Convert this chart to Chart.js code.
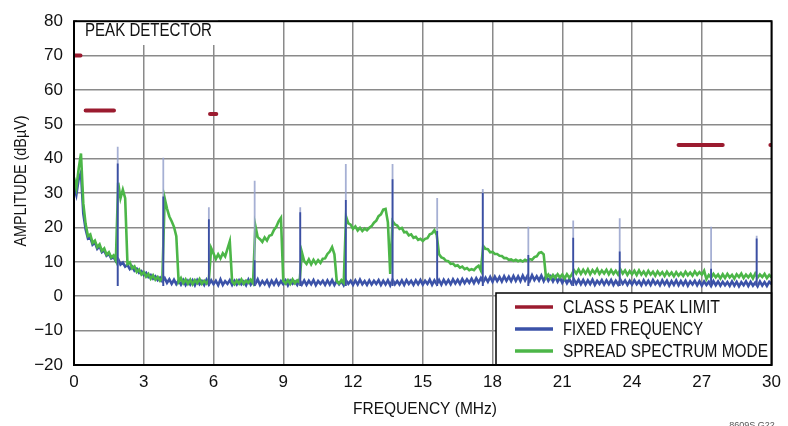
<!DOCTYPE html>
<html>
<head>
<meta charset="utf-8">
<script src="https://cdn.jsdelivr.net/npm/chart.js@4/dist/chart.umd.min.js"></script>
<style>
  body { margin: 0; background: #fff; }
  canvas { display: block; }
</style>
</head>
<body>
<canvas id="grafica" width="788" height="426"></canvas>
<script>
// ejes
const xTickValues = [0, 3, 6, 9, 12, 15, 18, 21, 24, 27, 30]
const xTickLabels = ['0', '3', '6', '9', '12', '15', '18', '21', '24', '27', '30']
const yTickValues = [-20, -10, 0, 10, 20, 30, 40, 50, 60, 70, 80]
const yTickLabels = ['\u221220', '\u221210', '0', '10', '20', '30', '40', '50', '60', '70', '80']

// leyenda
const legendLabels = ['CLASS 5 PEAK LIMIT', 'FIXED FREQUENCY', 'SPREAD SPECTRUM MODE']
const legendColors = ['#9b1b2f', '#3b52a8', '#4cb648']

// limite clase 5 (desde MHz, hasta MHz, dBuV)
const limitFrom = [0.05, 0.5, 5.85, 26.0, 29.95]
const limitTo = [0.28, 1.72, 6.12, 27.9, 30.0]
const limitLevel = [70, 54, 53, 44, 44]

// espectro medido, un valor cada 0.1 MHz desde 0 hasta 30
const freqStep = 0.1
const spreadValues = [
  34.5, 31.5, 37, 41.5, 27, 21, 17.5, 18, 15.5, 16.2,
  14.3, 15.1, 13.2, 13.9, 12.1, 12.8, 11.3, 11.9, 10.4, 33,
  28.5, 31, 28.5, 9.4, 9.9, 8.1, 8.7, 7.1, 7.8, 6.3,
  7.0, 5.7, 6.5, 5.1, 6.1, 4.8, 5.6, 4.5, 5.4, 28.5,
  25.5, 23.2, 21.8, 20.2, 17.5, 4.2, 5.3, 3.8, 4.9, 3.6,
  4.8, 3.5, 4.7, 3.8, 5.0, 3.6, 4.5, 3.7, 4.8, 14,
  12.4, 10.8, 12.2, 11.0, 12.5, 11.6, 13.8, 16, 4.3, 3.5,
  4.6, 3.7, 4.9, 3.6, 4.5, 3.9, 4.8, 3.8, 20.5, 17.2,
  16.6, 15.8, 17.1, 16.2, 17.6, 17.8, 19.3, 20.2, 21.8, 22.8,
  4.5, 3.7, 4.7, 3.6, 4.9, 3.8, 4.6, 4.0, 12.8, 10.2,
  9.4, 10.7, 9.3, 10.6, 9.5, 10.5, 9.7, 10.9, 11.0, 12.3,
  13.0, 14.3, 12.2, 4.4, 3.7, 4.7, 3.9, 23.2, 21.2, 20.8,
  19.6, 20.3, 19.1, 19.9, 19.0, 19.7, 19.2, 19.9, 20.4, 21.4,
  22.0, 23.3, 23.8, 25.2, 25.4, 21.5, 6.5, 21.8, 20.9, 20.6,
  19.6, 19.9, 18.6, 18.7, 17.7, 18.0, 17.0, 17.3, 16.4, 16.7,
  16.1, 16.7, 16.9, 18.0, 18.3, 19.2, 17.8, 12.2, 11.3, 11.0,
  10.3, 10.2, 9.4, 9.5, 8.8, 9.0, 8.3, 8.6, 7.9, 8.2,
  7.6, 7.9, 7.6, 8.4, 8.9, 7.5, 14.6, 13.8, 13.7, 12.8,
  12.9, 12.3, 12.3, 11.8, 11.7, 11.1, 11.1, 10.6, 10.7, 10.3,
  10.6, 10.2, 10.5, 10.1, 10.6, 10.3, 10.8, 10.6, 11.4, 11.6,
  12.6, 12.8, 12.2, 5.4, 6.3, 5.2, 6.2, 5.3, 6.4, 5.5,
  6.3, 5.2, 6.4, 5.4, 6.2, 7.6, 6.6, 7.8, 6.5, 7.7,
  6.6, 7.8, 6.4, 7.6, 6.7, 7.9, 6.5, 7.5, 6.6, 7.7,
  6.4, 7.6, 6.5, 7.4, 6.3, 7.8, 6.6, 7.5, 6.2, 7.3,
  6.4, 7.4, 6.2, 7.5, 6.3, 7.2, 6.1, 7.4, 6.3, 7.1,
  6.0, 7.2, 6.2, 7.0, 5.9, 7.1, 6.1, 6.9, 5.8, 7.0,
  6.0, 6.8, 5.9, 7.1, 6.1, 6.9, 6.0, 7.2, 6.2, 7.0,
  6.3, 7.4, 5.0, 6.2, 5.4, 6.5, 5.5, 6.3, 5.2, 6.4,
  5.3, 6.5, 5.5, 6.2, 5.1, 6.4, 5.6, 6.6, 5.3, 6.3,
  5.5, 6.4, 5.2, 6.6, 5.4, 6.3, 5.6, 6.5, 5.3, 6.2,
  5.5
]
const fixedValues = [
  32, 29.5, 34, 36, 24, 19.5, 16.8, 17.2, 15, 15.6,
  13.8, 14.5, 12.8, 13.3, 11.8, 12.3, 11, 11.4, 10.2, 10.8,
  9.2, 9.8, 8.6, 9.1, 7.9, 8.6, 7.4, 8.0, 6.8, 7.3,
  6.2, 6.8, 5.6, 6.2, 5.1, 5.8, 4.7, 5.4, 4.3, 5.3,
  3.9, 4.9, 3.6, 4.8, 3.5, 4.6, 3.4, 4.7, 3.3, 4.5,
  3.4, 4.6, 3.2, 4.7, 3.5, 4.4, 3.3, 4.8, 3.4, 4.6,
  3.5, 4.5, 3.2, 4.9, 3.3, 4.4, 3.6, 4.7, 3.3, 4.5,
  3.4, 4.6, 3.5, 4.3, 3.2, 4.8, 3.4, 4.5, 3.6, 4.9,
  3.3, 4.4, 3.5, 4.6, 3.1, 4.5, 3.4, 4.7, 3.3, 4.4,
  3.5, 4.6, 3.2, 4.5, 3.6, 4.3, 3.3, 4.8, 3.4, 4.6,
  3.3, 4.5, 3.5, 4.7, 3.2, 4.4, 3.6, 4.5, 3.3, 4.6,
  3.4, 4.7, 3.3, 4.5, 3.5, 4.4, 3.2, 4.6, 3.6, 4.5,
  3.3, 4.6, 3.4, 4.8, 3.5, 4.4, 3.3, 4.6, 3.4, 4.5,
  3.6, 4.7, 3.3, 4.5, 3.4, 4.6, 3.2, 4.8, 3.5, 4.4,
  3.4, 4.6, 3.3, 4.7, 3.6, 4.5, 3.3, 4.6, 3.5, 4.7,
  3.4, 4.5, 3.6, 4.8, 3.3, 4.6, 3.5, 4.7, 3.4, 4.8,
  3.6, 4.7, 3.5, 4.9, 3.7, 4.8, 3.6, 5.0, 3.8, 4.9,
  3.9, 5.1, 3.8, 5.2, 4.0, 5.3, 4.1, 5.4, 4.2, 5.6,
  4.2, 5.7, 4.4, 5.6, 4.3, 5.8, 4.5, 5.7, 4.4, 5.9,
  4.5, 5.8, 4.4, 6.0, 4.6, 5.9, 4.5, 6.1, 4.7, 5.8,
  4.6, 6.0, 4.4, 5.9, 4.5, 5.7, 4.3, 5.6, 4.2, 5.4,
  3.9, 5.2, 3.8, 5.0, 3.7, 4.9, 3.6, 4.8, 3.5, 4.7,
  3.4, 4.6, 3.5, 4.8, 3.3, 4.5, 3.6, 4.7, 3.4, 4.6,
  3.5, 4.7, 3.3, 4.5, 3.4, 4.8, 3.6, 4.6, 3.3, 4.5,
  3.4, 4.6, 3.5, 4.4, 3.2, 4.6, 3.4, 4.5, 3.3, 4.7,
  3.5, 4.4, 3.2, 4.6, 3.4, 4.5, 3.1, 4.4, 3.3, 4.6,
  3.2, 4.4, 3.3, 4.5, 3.1, 4.3, 3.4, 4.5, 3.2, 4.4,
  3.1, 4.3, 3.3, 4.2, 3.0, 4.4, 3.2, 4.3, 3.1, 4.2,
  3.2, 4.1, 3.0, 4.3, 3.1, 4.2, 2.9, 4.1, 3.2, 4.3,
  3.0, 4.2, 3.1, 4.0, 2.9, 4.3, 3.1, 4.1, 3.0, 4.2,
  3.5
]

// armonicos de frecuencia fija
const spikeFreqs = [1.88, 3.84, 5.8, 7.77, 9.73, 11.69, 13.7, 15.62, 17.58, 19.54, 21.47, 23.47, 27.4, 29.36]
const spikeTops = [43.5, 40.3, 25.9, 33.6, 25.9, 38.5, 38.5, 28.6, 31.2, 20.2, 22, 22.7, 20.2, 17.6]
const spikeDark = [38.6, 29, 22.4, 10.5, 24.4, 28, 34, 19, 30, 12, 17, 13, 8, 16.8]
const spikeBase = 3

const fuente = "'Liberation Sans', Arial, sans-serif"

function serie(values) {
  return values.map((v, i) => ({ x: +(i * freqStep).toFixed(1), y: v }))
}
function spikes(tops) {
  let out = []
  spikeFreqs.forEach((f, i) => {
    out.push({ x: f, y: spikeBase }, { x: f, y: tops[i] }, { x: f, y: null })
  })
  return out
}
function limites() {
  let out = []
  limitLevel.forEach((lv, i) => {
    out.push({ x: limitFrom[i], y: lv }, { x: limitTo[i], y: lv }, { x: limitTo[i], y: null })
  })
  return out
}

const marco = {
  id: 'marco',
  afterDraw(chart) {
    const ctx = chart.ctx
    const a = chart.chartArea
    ctx.save()
    // recuadro PEAK DETECTOR
    ctx.fillStyle = '#fff'
    ctx.fillRect(77, 15, 141, 30)
    ctx.fillStyle = '#111'
    ctx.font = '18px ' + fuente
    ctx.textBaseline = 'middle'
    ctx.textAlign = 'left'
    ctx.fillText('PEAK DETECTOR', 85, 31, 127)

    // leyenda
    const lx = 496, ly = 293
    const anchos = [157, 140, 205]
    ctx.fillStyle = '#fff'
    ctx.fillRect(lx, ly, a.right - lx, a.bottom - ly)
    ctx.strokeStyle = '#000'
    ctx.lineWidth = 1.5
    ctx.strokeRect(lx, ly, a.right - lx, a.bottom - ly)
    legendLabels.forEach((t, i) => {
      const y = 307 + i * 22
      ctx.strokeStyle = legendColors[i]
      ctx.lineWidth = 3.5
      ctx.beginPath()
      ctx.moveTo(515, y)
      ctx.lineTo(553, y)
      ctx.stroke()
      ctx.fillStyle = '#111'
      ctx.fillText(t, 563, y + 1, anchos[i])
    })

    // marco
    ctx.strokeStyle = '#000'
    ctx.lineWidth = 2
    ctx.strokeRect(a.left, a.top, a.right - a.left, a.bottom - a.top)

    // titulos de ejes
    ctx.fillStyle = '#111'
    ctx.font = '17px ' + fuente
    ctx.textAlign = 'center'
    ctx.fillText('FREQUENCY (MHz)', 425, 409, 144)
    ctx.save()
    ctx.translate(21, 181)
    ctx.rotate(-Math.PI / 2)
    ctx.fillText('AMPLITUDE (dB\u00b5V)', 0, 0, 131)
    ctx.restore()

    ctx.fillStyle = '#555'
    ctx.font = '9px ' + fuente
    ctx.textBaseline = 'top'
    ctx.fillText('8609S G22', 752, 421)
    ctx.restore()
  }
}

const comun = { pointRadius: 0, tension: 0, spanGaps: false, fill: false }

new Chart(document.getElementById('grafica'), {
  type: 'line',
  data: {
    datasets: [
      { ...comun, label: legendLabels[0], data: limites(), borderColor: legendColors[0], borderWidth: 4, borderCapStyle: 'round', order: 0 },
      { ...comun, label: 'dark', data: spikes(spikeDark), borderColor: '#3b4fa3', borderWidth: 1.8, order: 1 },
      { ...comun, label: 'pale', data: spikes(spikeTops), borderColor: 'rgba(150,162,205,0.85)', borderWidth: 1.8, order: 2 },
      { ...comun, label: legendLabels[2], data: serie(spreadValues), borderColor: legendColors[2], borderWidth: 2.6, order: 3 },
      { ...comun, label: legendLabels[1], data: serie(fixedValues), borderColor: legendColors[1], borderWidth: 2.6, order: 4 }
    ]
  },
  options: {
    responsive: false,
    animation: false,
    events: [],
    layout: { padding: { top: 13, right: 11, left: 0, bottom: 0 } },
    plugins: { legend: { display: false }, tooltip: { enabled: false } },
    scales: {
      x: {
        type: 'linear', min: 0, max: 30,
        afterBuildTicks: (s) => { s.ticks = xTickValues.map(v => ({ value: v })) },
        afterFit: (s) => { s.height = 61 },
        ticks: {
          padding: 7, color: '#111', maxRotation: 0,
          font: { family: fuente, size: 17 },
          callback: (v) => xTickLabels[xTickValues.indexOf(v)]
        },
        grid: { color: '#8a8a8a', lineWidth: 1.5, drawTicks: false },
        border: { display: false }
      },
      y: {
        min: -20, max: 80,
        afterBuildTicks: (s) => { s.ticks = yTickValues.map(v => ({ value: v })) },
        afterFit: (s) => { s.width = 74 },
        ticks: {
          padding: 11, color: '#111',
          font: { family: fuente, size: 17 },
          callback: (v) => yTickLabels[yTickValues.indexOf(v)]
        },
        grid: { color: '#8a8a8a', lineWidth: 1.5, drawTicks: false },
        border: { display: false }
      }
    }
  },
  plugins: [marco]
})
</script>
</body>
</html>
